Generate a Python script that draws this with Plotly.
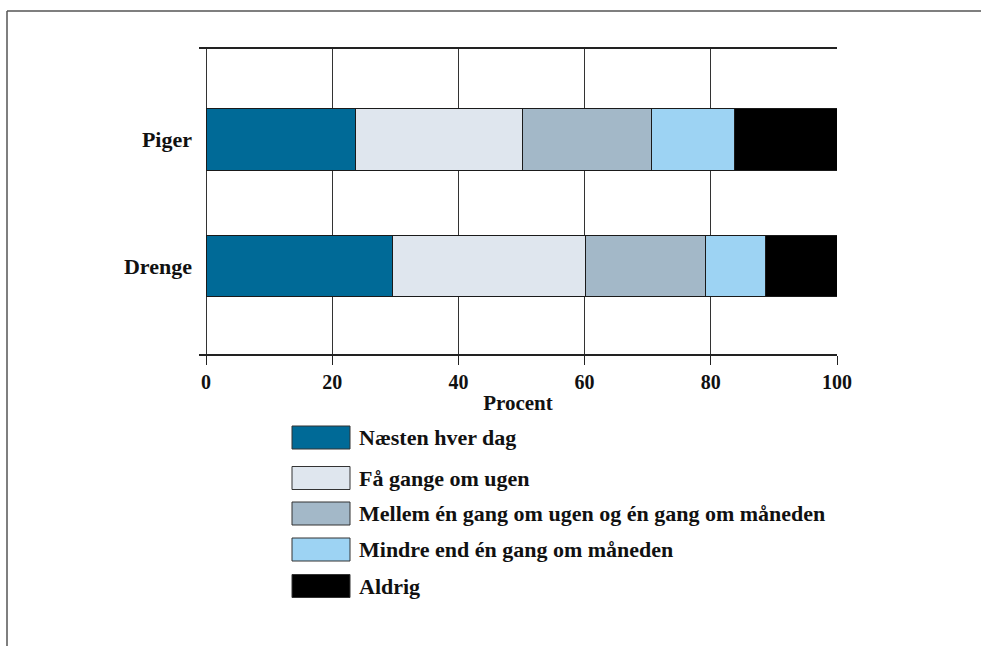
import plotly.graph_objects as go

# ---------------- data ----------------
categories = ["Drenge", "Piger"]
series_names = [
    "Næsten hver dag",
    "Få gange om ugen",
    "Mellem én gang om ugen og én gang om måneden",
    "Mindre end én gang om måneden",
    "Aldrig",
]
naesten_hver_dag = [29.5, 23.7]
faa_gange_om_ugen = [30.7, 26.4]
mellem_uge_maaned = [18.9, 20.5]
mindre_end_maaned = [9.6, 13.1]
aldrig = [11.3, 16.3]
series_values = [naesten_hver_dag, faa_gange_om_ugen, mellem_uge_maaned,
                 mindre_end_maaned, aldrig]
x_tick_values = [0, 20, 40, 60, 80, 100]
x_title = "Procent"

# ---------------- style ----------------
colors = ["#006A97", "#DFE6EE", "#A3B8C8", "#9DD3F3", "#000000"]
FONT = "Liberation Serif"
W, H = 981, 646
L, R, T, B = 199, 144, 49, 292
plotW = W - L - R
plotH = H - T - B
px_per_pct = 631 / 100.0
x_min = -(206 - L) / px_per_pct


def pxx(xpix):
    return (xpix - L) / plotW


def pxy(ypix):
    return (H - B - ypix) / plotH


fig = go.Figure()
for name, vals, col in zip(series_names, series_values, colors):
    fig.add_trace(go.Bar(
        y=categories, x=vals, name=name, orientation="h",
        marker=dict(color=col, line=dict(color="#1a1a1a", width=1)),
        width=0.488, showlegend=False, hoverinfo="skip",
    ))

# manual legend
legend_rows = [437.5, 478, 513.5, 549.5, 586]
shapes = []
annotations = []
for name, col, yc in zip(series_names, colors, legend_rows):
    shapes.append(dict(type="rect", xref="paper", yref="paper",
                       x0=pxx(292), x1=pxx(350), y0=pxy(yc + 11.5), y1=pxy(yc - 11.5),
                       fillcolor=col, line=dict(color="#333333", width=1)))
    annotations.append(dict(xref="paper", yref="paper", x=pxx(357), y=pxy(yc),
                            xanchor="left", yanchor="middle", text=name, showarrow=False,
                            font=dict(family=FONT, size=22, color="#111111", weight="bold")))

# outer frame (top and left lines)
shapes.append(dict(type="line", xref="paper", yref="paper",
                   x0=pxx(7), x1=pxx(W + 2), y0=pxy(11), y1=pxy(11),
                   line=dict(color="#555555", width=1.5)))
shapes.append(dict(type="line", xref="paper", yref="paper",
                   x0=pxx(7), x1=pxx(7), y0=pxy(11), y1=pxy(H + 2),
                   line=dict(color="#555555", width=1.5)))

fig.update_layout(
    barmode="stack",
    width=W, height=H,
    margin=dict(l=L, r=R, t=T, b=B, autoexpand=False),
    paper_bgcolor="white", plot_bgcolor="white",
    shapes=shapes, annotations=annotations,
    font=dict(family=FONT, size=20, color="#111111"),
    xaxis=dict(
        range=[x_min, 100], tickvals=x_tick_values,
        ticks="outside", ticklen=9, tickcolor="#222222", tickwidth=1,
        showgrid=True, gridcolor="#333333", gridwidth=1,
        zeroline=True, zerolinecolor="#333333", zerolinewidth=1,
        showline=True, linecolor="#222222", linewidth=1.5, mirror=True,
        tickfont=dict(family=FONT, size=20, color="#111111", weight="bold"),
        title=dict(text=x_title, standoff=4,
                   font=dict(family=FONT, size=21, color="#111111", weight="bold")),
    ),
    yaxis=dict(
        type="category", categoryorder="array", categoryarray=categories,
        range=[-0.693, 1.709], showgrid=False, zeroline=False, showline=False,
        ticks="", ticklabelstandoff=6,
        tickfont=dict(family=FONT, size=22, color="#111111", weight="bold"),
    ),
)

fig.write_html(
    "out.html",
    config={"displayModeBar": False},
    post_script="document.body.style.margin='0';document.body.style.overflow='hidden';",
)
